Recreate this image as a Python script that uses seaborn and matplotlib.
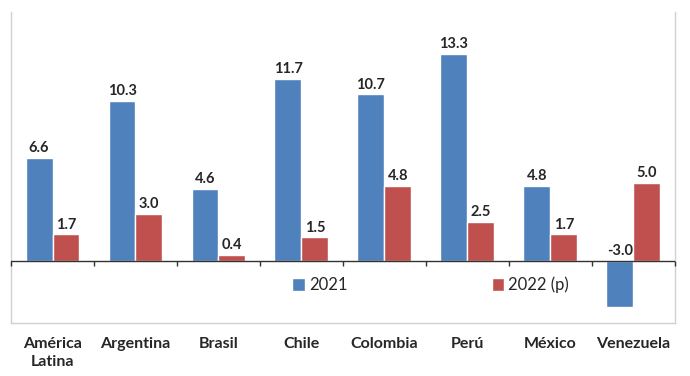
import pandas as pd
import seaborn as sns
import matplotlib.pyplot as plt

paises = ['América\nLatina', 'Argentina', 'Brasil', 'Chile', 'Colombia', 'Perú', 'México', 'Venezuela']
v2021 = [6.6, 10.3, 4.6, 11.7, 10.7, 13.3, 4.8, -3.0]
v2022 = [1.7, 3.0, 0.4, 1.5, 4.8, 2.5, 1.7, 5.0]
series = ['2021', '2022 (p)']
colores = ['#4F81BD', '#C0504D']

df = pd.DataFrame({'pais': paises * 2,
                   'valor': v2021 + v2022,
                   'serie': [series[0]] * len(paises) + [series[1]] * len(paises)})

sns.set_theme(style='white')
plt.rcParams['font.family'] = ['Lato', 'DejaVu Sans']

fig = plt.figure(figsize=(6.9, 3.76), dpi=100)
ax = fig.add_axes([0.016, 0.141, 0.962, 0.827])

sns.barplot(data=df, x='pais', y='valor', hue='serie', palette=colores,
            width=0.65, gap=0, saturation=1, ax=ax)

ax.set_ylim(-4, 16)
ax.set_xlim(-0.5, len(paises) - 0.5)
ax.set_xlabel('')
ax.set_ylabel('')
ax.set_yticks([])
ax.tick_params(axis='x', length=0, pad=10, labelsize=11.5)
for lab in ax.get_xticklabels():
    lab.set_fontweight('bold')
    lab.set_linespacing(1.35)

for s in ['left', 'right', 'bottom']:
    ax.spines[s].set_color('#d0d0d0')
    ax.spines[s].set_linewidth(1)
ax.spines['top'].set_visible(False)

# eje en cero con marcas entre categorias
ax.axhline(0, color='#333333', lw=1, zorder=3)
bordes = [i - 0.5 for i in range(len(paises) + 1)]
ax.vlines(bordes, -0.35, 0, color='#333333', lw=1, zorder=3, clip_on=False)

for p in ax.patches:
    h = p.get_height()
    if p.get_width() == 0:
        continue
    ax.annotate(f'{h:.1f}', (p.get_x() + p.get_width() / 2, max(h, 0)),
                xytext=(0, 2), textcoords='offset points',
                ha='center', va='bottom', fontsize=10.5, fontweight='bold')

ax.legend(loc='center', bbox_to_anchor=(0.632, 0.122), ncol=2, frameon=False,
          handlelength=0.75, handleheight=0.75, handletextpad=0.25,
          columnspacing=8.65, fontsize=12)

fig.savefig('out.png', dpi=100)
